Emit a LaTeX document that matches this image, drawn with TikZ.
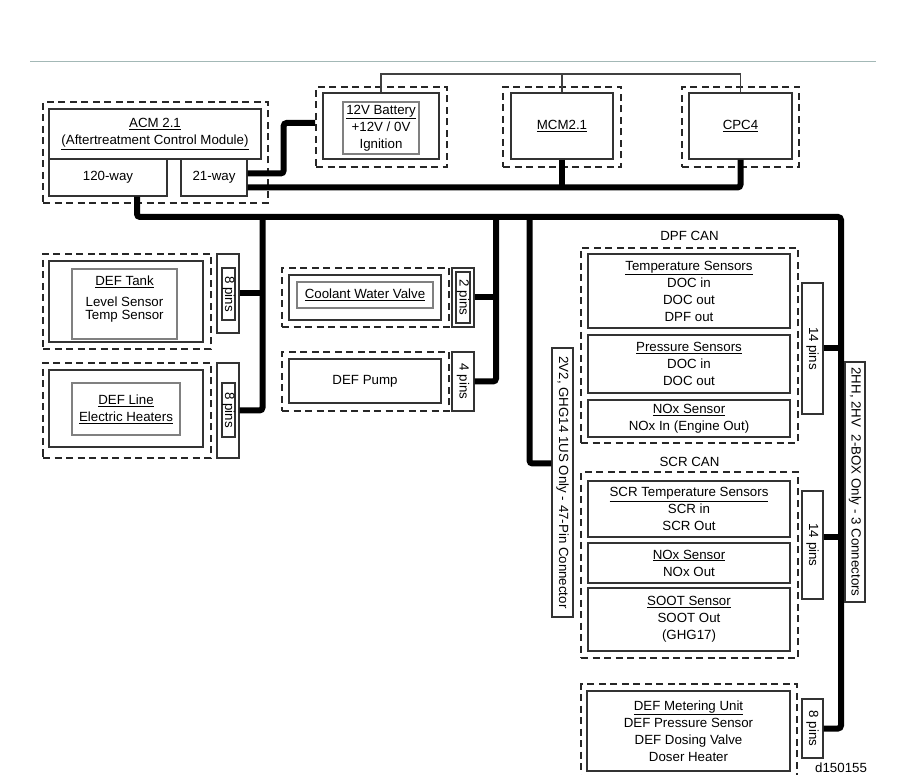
\documentclass[tikz,border=0pt]{standalone}
\usepackage{fontspec}
\setmainfont{Liberation Sans}
\usetikzlibrary{positioning}
\definecolor{headteal}{HTML}{A3B8B6}
\tikzstyle{dashbox} = [draw=black!85, line width=1.7pt, dash pattern=on 7pt off 4.5pt, inner sep=0pt]
\tikzstyle{unitbox} = [draw=black!80, line width=1.3pt, inner sep=0pt, align=center]
\tikzstyle{labelbox} = [draw=black!50, line width=1.2pt, inner sep=0pt, align=center]
\tikzstyle{pinbox} = [draw=black!80, line width=1.2pt, inner sep=0pt]
\tikzstyle{bus} = [line width=6pt, rounded corners=3pt]
\tikzstyle{wire} = [draw=black!75, line width=1.3pt]
\tikzstyle{headrule} = [draw=headteal, line width=1.2pt]
\tikzset{boxsize/.style 2 args={minimum width=#1pt, minimum height=#2pt}}

\begin{document}
\begin{tikzpicture}[x=1pt, y=-1pt, every node/.style={font=\fontsize{13.3}{17}\selectfont}]
\useasboundingbox (0,0) rectangle (908,775);
\clip (0,0) rectangle (908,775);
\draw[headrule] (30,61.5) -- (876,61.5);

\node[dashbox, boxsize={225}{101}] (acm_dash) at (155.5,152.5) {};
\node[unitbox, boxsize={212}{50}] (acm) at (155,134) {\underline{ACM 2.1}\\\underline{(Aftertreatment Control Module)}};
\node[unitbox, boxsize={118}{37}] (acm_120) at (108,177.5) {120-way};
\node[unitbox, boxsize={66}{37}] (acm_21) at (214,177.5) {21-way};

\node[dashbox, boxsize={131}{80}] (bat_dash) at (381.5,127) {};
\node[unitbox, boxsize={116}{66}] (bat) at (381,126) {};
\node[labelbox, boxsize={76}{52}] (bat_txt) at (381,128) {\underline{12V Battery}\\+12V / 0V\\Ignition};
\node[dashbox, boxsize={118}{80}] (mcm_dash) at (562,127) {};
\node[unitbox, boxsize={102}{66}] (mcm) at (562,126) {\underline{MCM2.1}};
\node[dashbox, boxsize={117}{80}] (cpc_dash) at (740.5,127) {};
\node[unitbox, boxsize={103}{66}] (cpc) at (740.5,126) {\underline{CPC4}};

\node[dashbox, boxsize={168}{95}] (tank_dash) at (127,301.5) {};
\node[unitbox, boxsize={154}{81}] (tank) at (126,301.5) {};
\node[labelbox, boxsize={105}{70}] (tank_txt) at (124.5,304) {\underline{DEF Tank}\\[4pt]Level Sensor\\[-4pt]Temp Sensor\\[-5pt]\mbox{}};
\node[pinbox, boxsize={22}{79}] (tank_pins) at (228,293.5) {};
\node[pinbox, boxsize={13}{52}] (tank_pins_txt) at (228.5,294) {\rotatebox{-90}{8 pins}};

\node[dashbox, boxsize={168}{95}] (heater_dash) at (127,410.5) {};
\node[unitbox, boxsize={154}{77}] (heater) at (126,408.5) {};
\node[labelbox, boxsize={108}{52}] (heater_txt) at (126,409) {\underline{DEF Line}\\\underline{Electric Heaters}};
\node[pinbox, boxsize={22}{95}] (heater_pins) at (228,410.5) {};
\node[pinbox, boxsize={13}{54}] (heater_pins_txt) at (228.5,410) {\rotatebox{-90}{8 pins}};

\node[dashbox, boxsize={167}{59}] (cool_dash) at (365.5,297.5) {};
\node[unitbox, boxsize={152}{45}] (cool) at (365,297.5) {};
\node[labelbox, boxsize={136}{26}] (cool_txt) at (365,295) {\underline{Coolant Water Valve}};
\node[pinbox, boxsize={22}{59}] (cool_pins) at (463,297.5) {};
\node[pinbox, boxsize={14}{51}] (cool_pins_txt) at (463,297.5) {\rotatebox{-90}{2 pins}};

\node[dashbox, boxsize={167}{59}] (pump_dash) at (365.5,381.5) {};
\node[unitbox, boxsize={152}{44}] (pump) at (365,381) {DEF Pump};
\node[pinbox, boxsize={22}{59}] (pump_pins) at (463,381.5) {\rotatebox{-90}{4 pins}};

\node[dashbox, boxsize={217}{195}] (dpf_dash) at (689.5,345.5) {};
\node[above=6pt of dpf_dash, inner sep=0pt] (dpf_can) {DPF CAN};
\node[unitbox, boxsize={202}{74}] (dpf_temp) at (689,291) {\underline{Temperature Sensors}\\DOC in\\DOC out\\DPF out};
\node[unitbox, boxsize={202}{58}] (dpf_press) at (689,364) {\underline{Pressure Sensors}\\DOC in\\DOC out};
\node[unitbox, boxsize={202}{37}] (dpf_nox) at (689,418.5) {\underline{NOx Sensor}\\NOx In (Engine Out)};
\node[pinbox, boxsize={21}{131}] (dpf_pins) at (812.5,348.5) {\rotatebox{-90}{14 pins}};

\node[dashbox, boxsize={217}{186}] (scr_dash) at (689.5,565) {};
\node[above=4.5pt of scr_dash, inner sep=0pt] (scr_can) {SCR CAN};
\node[unitbox, boxsize={202}{56}] (scr_temp) at (689,509) {\underline{SCR Temperature Sensors}\\SCR in\\SCR Out};
\node[unitbox, boxsize={202}{40}] (scr_nox) at (689,563) {\underline{NOx Sensor}\\NOx Out};
\node[unitbox, boxsize={202}{63}] (scr_soot) at (689,619.5) {\underline{SOOT Sensor}\\SOOT Out\\(GHG17)};
\node[pinbox, boxsize={21}{108}] (scr_pins) at (812.5,545) {\rotatebox{-90}{14 pins}};

\node[dashbox, boxsize={216}{110}] (dmu_dash) at (689,739) {};
\node[unitbox, boxsize={203}{80}] (dmu) at (688.5,731) {\underline{DEF Metering Unit}\\DEF Pressure Sensor\\DEF Dosing Valve\\Doser Heater};
\node[pinbox, boxsize={21}{59}] (dmu_pins) at (812.5,728.5) {\rotatebox{-90}{8 pins}};

\node[pinbox, boxsize={21}{269}] (harness_47) at (562.5,482.5) {\rotatebox{-90}{2V2, GHG14 1US Only - 47-Pin Connector}};
\node[anchor=base west, inner sep=0pt] (fig_id) at (815,772.5) {d150155};

\coordinate (top_bus) at (562,74);
\coordinate (cpu_bus) at ([yshift=-10pt]acm_21.east);
\coordinate (bus_right) at (841,217);
\coordinate (bus_a) at (262.5,217);
\coordinate (bus_b) at (496,217);
\coordinate (bus_c) at (529.5,217);

\draw[wire] (bat.north) |- (top_bus) -| (cpc.north);
\draw[wire] (mcm.north) -- (top_bus);
\draw[bus] ([yshift=4pt]acm_21.east) -- ++(36,0) |- ([yshift=4pt]bat_dash.west);
\draw[bus] (cpu_bus) -| (cpc.south);
\draw[bus] (mcm.south) -- (mcm.south |- cpu_bus);
\draw[bus] ([xshift=29pt]acm_120.south) |- (bus_right) |- (dmu_pins.east);
\draw[bus] (tank_pins.east) -- (tank_pins.east -| bus_a);
\draw[bus] (heater_pins.east) -| (bus_a);
\draw[bus] (cool_pins.east) -- (cool_pins.east -| bus_b);
\draw[bus] (pump_pins.east) -| (bus_b);
\draw[bus] (bus_c) |- ([yshift=19pt]harness_47.west);
\draw[bus] (dpf_pins.east) -- (dpf_pins.east -| bus_right);
\draw[bus] ([yshift=8pt]scr_pins.east) -- ([yshift=8pt]scr_pins.east -| bus_right);

\node[pinbox, fill=white, boxsize={20}{240}] (harness_3) at (855,482) {\rotatebox{-90}{2HH, 2HV\ \ 2-BOX Only - 3 Connectors}};
\end{tikzpicture}
\end{document}
